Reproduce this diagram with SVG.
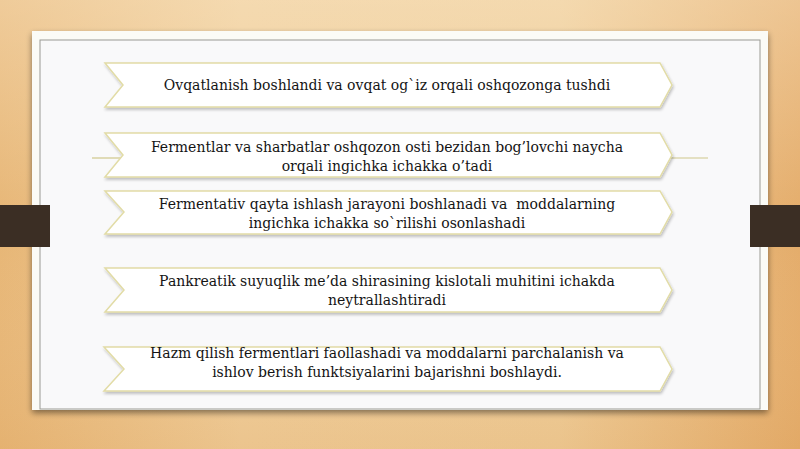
<svg xmlns="http://www.w3.org/2000/svg" width="800" height="449" viewBox="0 0 800 449">
<defs>
<linearGradient id="bg" x1="0" y1="0" x2="1" y2="0">
<stop offset="0" stop-color="#e7b676"/>
<stop offset="0.3" stop-color="#efcc98"/>
<stop offset="0.7" stop-color="#eecb96"/>
<stop offset="1" stop-color="#e4ac6a"/>
</linearGradient>
<linearGradient id="bgv" x1="0" y1="0" x2="0" y2="1">
<stop offset="0" stop-color="#fff3dc" stop-opacity="0.35"/>
<stop offset="0.5" stop-color="#fff3dc" stop-opacity="0"/>
<stop offset="1" stop-color="#d89850" stop-opacity="0.15"/>
</linearGradient>
<filter id="sh" x="-10%" y="-10%" width="120%" height="120%">
<feGaussianBlur in="SourceAlpha" stdDeviation="3"/>
<feOffset dx="0" dy="3"/>
<feComponentTransfer><feFuncA type="linear" slope="0.45"/></feComponentTransfer>
<feMerge><feMergeNode/><feMergeNode in="SourceGraphic"/></feMerge>
</filter>
<filter id="csh" x="-5%" y="-20%" width="110%" height="150%">
<feGaussianBlur in="SourceAlpha" stdDeviation="1.5"/>
<feOffset dx="1" dy="1.5"/>
<feComponentTransfer><feFuncA type="linear" slope="0.25"/></feComponentTransfer>
<feMerge><feMergeNode/><feMergeNode in="SourceGraphic"/></feMerge>
</filter>
</defs>
<style>
.chev{fill:#ffffff;stroke:#e2dca6;stroke-width:1.5;filter:url(#csh)}
.t{font-family:"DejaVu Serif","Liberation Serif",serif;font-size:14px;fill:#141414;text-anchor:middle;white-space:pre}
.ln{stroke:#cfc78a;stroke-width:1.2}
</style>
<rect width="800" height="449" fill="url(#bg)"/>
<rect width="800" height="449" fill="url(#bgv)"/>
<g id="panel">
<rect x="32" y="31" width="736" height="379" fill="#fbfbf6" filter="url(#sh)"/>
<rect x="40" y="40" width="720" height="369" fill="#f9f9fa" stroke="#9a9a94" stroke-width="1"/>
</g>
<g id="tabs">
<rect x="0" y="205" width="50" height="42" fill="#3b2e24"/>
<rect x="750" y="205" width="50" height="42" fill="#3b2e24"/>
</g>
<g id="connectors">
<line class="ln" x1="92" y1="158" x2="122" y2="158"/>
<line class="ln" x1="668" y1="158" x2="708" y2="158"/>
</g>
<g id="n1">
<polygon class="chev" points="105,63 660,63 672,85 660,107 105,107 123,85"/>
<text class="t" x="387" y="90">Ovqatlanish boshlandi va ovqat og`iz orqali oshqozonga tushdi</text>
</g>
<g id="n2">
<polygon class="chev" points="105,133 660,133 672,155 660,177 105,177 123,155"/>
<text class="t" x="387" y="152">Fermentlar va sharbatlar oshqozon osti bezidan bog’lovchi naycha</text>
<text class="t" x="387" y="171">orqali ingichka ichakka o’tadi</text>
</g>
<g id="n3">
<polygon class="chev" points="105,191 660,191 672,212 660,234 105,234 124,212"/>
<text class="t" x="387" y="209" xml:space="preserve">Fermentativ qayta ishlash jarayoni boshlanadi va  moddalarning</text>
<text class="t" x="387" y="228">ingichka ichakka so`rilishi osonlashadi</text>
</g>
<g id="n4">
<polygon class="chev" points="105,268 660,268 672,290 660,312 105,312 124,290"/>
<text class="t" x="387" y="286">Pankreatik suyuqlik me’da shirasining kislotali muhitini ichakda</text>
<text class="t" x="387" y="305">neytrallashtiradi</text>
</g>
<g id="n5">
<polygon class="chev" points="104,347 660,347 672,369 660,391 104,391 124,369"/>
<text class="t" x="387" y="358">Hazm qilish fermentlari faollashadi va moddalarni parchalanish va</text>
<text class="t" x="387" y="377">ishlov berish funktsiyalarini bajarishni boshlaydi.</text>
</g>
</svg>
